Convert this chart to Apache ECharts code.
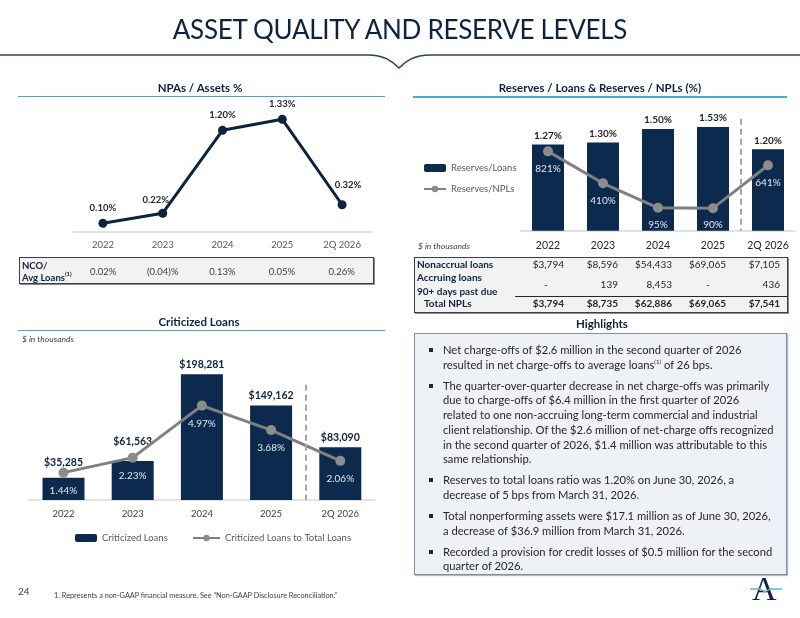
<!DOCTYPE html>
<html>
<head>
<meta charset="utf-8">
<title>Asset Quality and Reserve Levels</title>
<script src="https://cdn.jsdelivr.net/npm/echarts@6/dist/echarts.min.js"></script>
<style>
body{margin:0;background:#fff;font-family:Lato,'Open Sans',sans-serif;color:#262626;}
#page{position:relative;width:800px;height:618px;overflow:hidden;background:#fff;}
#chart{position:absolute;left:0;top:0;width:800px;height:618px;}
.abs{position:absolute;white-space:nowrap;}
.ctr{transform:translate(-50%,-50%);}
.lc{transform:translateY(-50%);}
.title{left:400px;top:29px;font-size:26px;color:#0d2240;letter-spacing:-0.3px;}
.sec{font-weight:bold;font-size:11.5px;color:#0d2240;}
.uline{position:absolute;height:1.5px;background:#4ea6c9;}
.note{font-style:italic;font-size:8.5px;color:#404040;}
.box{position:absolute;background:#f2f2f2;border:1px solid #3f3f3f;box-shadow:1px 1px 0 #8c8c8c;}
.cell{position:absolute;font-size:10px;color:#262626;}
.lbl{font-weight:bold;color:#0d2240;font-size:10px;}
#hl{position:absolute;left:414px;top:333px;width:371px;height:240px;background:#eef2f6;border:1px solid #7d8fa6;box-shadow:1px 1px 1px #b0b8c4;}
#hl p{margin:0 0 6.3px 0;position:relative;padding-left:28px;font-size:11.2px;line-height:14.7px;color:#262626;white-space:nowrap;}
#hl p:before{content:'';position:absolute;left:14px;top:5px;width:4px;height:4px;background:#262626;}
sup{font-size:6px;line-height:0;}
</style>
</head>
<body>
<div id="page">
  <div id="chart"></div>

  <div class="abs ctr title">ASSET QUALITY AND RESERVE LEVELS</div>
  <svg class="abs" style="left:0;top:0" width="800" height="80">
    <path d="M0 55 L368 55 C384 55 392 61 399 68 C406 61 414 55 430 55 L800 55" fill="none" stroke="#2a4263" stroke-width="1.6"/>
  </svg>

  <div class="abs ctr sec" style="left:200px;top:87px">NPAs / Assets %</div>
  <div class="uline" style="left:18px;top:95.5px;width:367px"></div>
  <div class="abs ctr sec" style="left:600px;top:87px">Reserves / Loans &amp; Reserves / NPLs (%)</div>
  <div class="uline" style="left:413px;top:96px;width:374px"></div>
  <div class="abs ctr sec" style="left:199px;top:321px">Criticized Loans</div>
  <div class="uline" style="left:18px;top:329.5px;width:367px"></div>
  <div class="abs ctr sec" style="left:602px;top:323px">Highlights</div>

  <div class="abs lc note" style="left:418px;top:245.7px">$ in thousands</div>
  <div class="abs lc note" style="left:22px;top:339.3px">$ in thousands</div>

  <div class="box" style="left:19px;top:257px;width:353px;height:25px"></div>
  <div class="abs lc lbl" style="left:22px;top:264.5px;font-size:9.5px">NCO/</div>
  <div class="abs lc lbl" style="left:22px;top:276.5px;font-size:9.5px">Avg Loans<sup>(1)</sup></div>
  <div id="ncoRow"></div>

  <div class="box" style="left:414px;top:257px;width:372px;height:54px"></div>
  <div class="abs lc lbl" style="left:417px;top:264.3px">Nonaccrual loans</div>
  <div class="abs lc lbl" style="left:417px;top:277.3px">Accruing loans</div>
  <div class="abs lc lbl" style="left:417px;top:290.7px">90+ days past due</div>
  <div class="abs lc lbl" style="left:424px;top:302.7px">Total NPLs</div>
  <div class="abs" style="left:515px;top:296px;width:272px;height:1px;background:#262626"></div>
  <div id="nplRows"></div>

  <div id="hl">
    <div style="height:9px"></div>
    <p>Net charge-offs of $2.6 million in the second quarter of 2026<br>resulted in net charge-offs to average loans<sup>(1)</sup> of 26 bps.</p>
    <p>The quarter-over-quarter decrease in net charge-offs was primarily<br>due to charge-offs of $6.4 million in the first quarter of 2026<br>related to one non-accruing long-term commercial and industrial<br>client relationship. Of the $2.6 million of net-charge offs recognized<br>in the second quarter of 2026, $1.4 million was attributable to this<br>same relationship.</p>
    <p>Reserves to total loans ratio was 1.20% on June 30, 2026, a<br>decrease of 5 bps from March 31, 2026.</p>
    <p>Total nonperforming assets were $17.1 million as of June 30, 2026,<br>a decrease of $36.9 million from March 31, 2026.</p>
    <p>Recorded a provision for credit losses of $0.5 million for the second<br>quarter of 2026.</p>
  </div>

  <div class="abs lc" style="left:18px;top:590.5px;font-size:10px;color:#404040">24</div>
  <div class="abs lc" style="left:54px;top:595px;font-size:7.3px;color:#404040">1. Represents a non-GAAP financial measure. See “Non-GAAP Disclosure Reconciliation.”</div>
  <div class="abs" style="left:752px;top:572px;font-family:'Liberation Serif',serif;font-size:34px;line-height:34px;color:#0d2240">A</div>
  <svg class="abs" style="left:748px;top:585px" width="36" height="10">
    <path d="M2 4 L12 4 L17 7 L22 4 L34 4" fill="none" stroke="#5fb7bd" stroke-width="1.4"/>
  </svg>
</div>

<script>
// periods
const years = ['2022', '2023', '2024', '2025', '2Q 2026'];

// NPAs / Assets %
const npaAssets = [0.10, 0.22, 1.20, 1.33, 0.32];
const ncoAvgLoans = ['0.02%', '(0.04)%', '0.13%', '0.05%', '0.26%'];

// Reserves / Loans & Reserves / NPLs
const reservesLoans = [1.27, 1.30, 1.50, 1.53, 1.20];
const reservesNpls = [821, 410, 95, 90, 641];
const nonaccrualLoans = ['$3,794', '$8,596', '$54,433', '$69,065', '$7,105'];
const accruing90 = ['-', '139', '8,453', '-', '436'];
const totalNpls = ['$3,794', '$8,735', '$62,886', '$69,065', '$7,541'];

// Criticized loans ($ in thousands) and % of total loans
const criticizedLoans = [35285, 61563, 198281, 149162, 83090];
const criticizedPct = [1.44, 2.23, 4.97, 3.68, 2.06];

const navy = '#0b2a4d';
const lineGray = '#808080';

// small tables under the charts
let html = '';
ncoAvgLoans.forEach((v, i) => {
    html += '<div class="abs cell ctr" style="left:' + (103.2 + i * 59.6) + 'px;top:270.5px;color:#404040;font-size:9.5px">' + v + '</div>';
});
document.getElementById('ncoRow').innerHTML = html;

html = '';
const rowTops = [264.3, 284, 302.7];
[nonaccrualLoans, accruing90, totalNpls].forEach((row, r) => {
    row.forEach((v, i) => {
        let right = 800 - (564 + i * 54);
        if (v === '-') right += 16;
        let bold = r === 2 ? 'font-weight:bold;' : '';
        html += '<div class="abs cell lc" style="right:' + right + 'px;top:' + rowTops[r] + 'px;' + bold + '">' + v + '</div>';
    });
});
document.getElementById('nplRows').innerHTML = html;

const chart = echarts.init(document.getElementById('chart'));

let catAxis = (grid, color, size, margin) => ({
    type: 'category',
    gridIndex: grid,
    data: years,
    axisLine: { lineStyle: { color: '#d9d9d9', width: 1.5 } },
    axisTick: { show: false },
    axisLabel: { color: color, fontSize: size, margin: margin }
});

let legendText = { color: '#595959', fontSize: 9.5 };

// label nudges so the NPA labels clear the line
const npaLabelOffset = [[0, 0], [-7, 2], [0, 0], [0, 0], [6, -4]];

const option = {
    animation: false,
    textStyle: { fontFamily: 'Lato' },
    grid: [
        { left: 73, top: 113.4, width: 299, height: 118.4 },
        { left: 520.5, top: 108.7, width: 275, height: 122 },
        { left: 28.9, top: 341.6, width: 346, height: 158.4 }
    ],
    legend: [
        {
            data: ['Reserves/Loans', 'Reserves/NPLs'],
            orient: 'vertical', left: 423, top: 163, itemGap: 11,
            itemWidth: 22, itemHeight: 8, padding: 0, textStyle: legendText
        },
        {
            data: ['Criticized Loans'],
            left: 75, top: 533, padding: 0, itemWidth: 22, itemHeight: 8, textStyle: legendText
        },
        {
            data: ['Criticized Loans to Total Loans'],
            left: 192, top: 533, padding: 0, itemWidth: 27, itemHeight: 8, textStyle: legendText
        }
    ],
    xAxis: [
        catAxis(0, '#595959', 9.5, 8),
        catAxis(1, '#262626', 10.5, 9),
        catAxis(2, '#404040', 9.5, 9),
        // hidden value axes, only used to place the dashed separators
        { type: 'value', gridIndex: 1, min: -0.5, max: 4.5, show: false },
        { type: 'value', gridIndex: 2, min: -0.5, max: 4.5, show: false }
    ],
    yAxis: [
        { type: 'value', gridIndex: 0, min: 0, max: 1.4, show: false },
        { type: 'value', gridIndex: 1, min: 0, max: 1.8, show: false },
        { type: 'value', gridIndex: 1, min: -200, max: 1370, show: false },
        { type: 'value', gridIndex: 2, min: 0, max: 250000, show: false },
        { type: 'value', gridIndex: 2, min: 0, max: 8.34, show: false }
    ],
    series: [
        {
            name: 'NPAs/Assets',
            type: 'line',
            xAxisIndex: 0, yAxisIndex: 0,
            data: npaAssets.map((v, i) => ({
                value: v,
                label: { offset: npaLabelOffset[i] }
            })),
            symbol: 'circle', symbolSize: 9,
            lineStyle: { color: '#0c2340', width: 3 },
            itemStyle: { color: '#0c2340' },
            label: {
                show: true, position: 'top', distance: 6,
                fontWeight: 'bold', fontSize: 9.5, color: '#262626',
                formatter: p => p.value.toFixed(2) + '%'
            }
        },
        {
            name: 'Reserves/Loans',
            type: 'bar',
            xAxisIndex: 1, yAxisIndex: 1,
            data: reservesLoans,
            barWidth: 32,
            itemStyle: { color: navy },
            label: {
                show: true, position: 'top', distance: 4,
                fontWeight: 'bold', fontSize: 10, color: '#262626',
                formatter: p => p.value.toFixed(2) + '%'
            }
        },
        {
            name: 'Reserves/NPLs',
            type: 'line',
            xAxisIndex: 1, yAxisIndex: 2,
            data: reservesNpls,
            symbol: 'circle', symbolSize: 10,
            lineStyle: { color: lineGray, width: 3 },
            itemStyle: { color: '#8c8c8c' },
            label: {
                show: true, position: 'bottom', distance: 7,
                fontSize: 10, color: '#e3e8ef',
                formatter: '{c}%'
            }
        },
        {
            name: 'Criticized Loans',
            type: 'bar',
            xAxisIndex: 2, yAxisIndex: 3,
            data: criticizedLoans.map((v, i) => ({
                value: v,
                label: { distance: [10, 14, 4, 4, 4][i] }
            })),
            barWidth: 42,
            itemStyle: { color: navy },
            label: {
                show: true, position: 'top',
                fontWeight: 'bold', fontSize: 10.5, color: '#0d2240',
                formatter: p => '$' + p.value.toLocaleString('en-US')
            }
        },
        {
            name: 'Criticized Loans to Total Loans',
            type: 'line',
            xAxisIndex: 2, yAxisIndex: 4,
            data: criticizedPct,
            symbol: 'circle', symbolSize: 10,
            lineStyle: { color: lineGray, width: 3 },
            itemStyle: { color: '#8c8c8c' },
            label: {
                show: true, position: 'bottom', distance: 8,
                fontSize: 10, color: '#e3e8ef',
                formatter: p => p.value.toFixed(2) + '%'
            }
        },
        // dashed separators before the quarter column
        {
            name: 'sep1',
            type: 'line',
            xAxisIndex: 3, yAxisIndex: 1,
            data: [[3.5, 0]],
            showSymbol: false,
            lineStyle: { opacity: 0 },
            silent: true,
            markLine: {
                symbol: 'none', silent: true, label: { show: false },
                lineStyle: { color: '#a6a6a6', type: [6, 4], width: 2 },
                data: [[{ coord: [3.5, 1.65] }, { coord: [3.5, 0] }]]
            }
        },
        {
            name: 'sep2',
            type: 'line',
            xAxisIndex: 4, yAxisIndex: 3,
            data: [[3.5, 0]],
            showSymbol: false,
            lineStyle: { opacity: 0 },
            silent: true,
            markLine: {
                symbol: 'none', silent: true, label: { show: false },
                lineStyle: { color: '#a6a6a6', type: [6, 4], width: 2 },
                data: [[{ coord: [3.5, 181700] }, { coord: [3.5, 0] }]]
            }
        }
    ]
};

chart.setOption(option);
</script>
</body>
</html>
